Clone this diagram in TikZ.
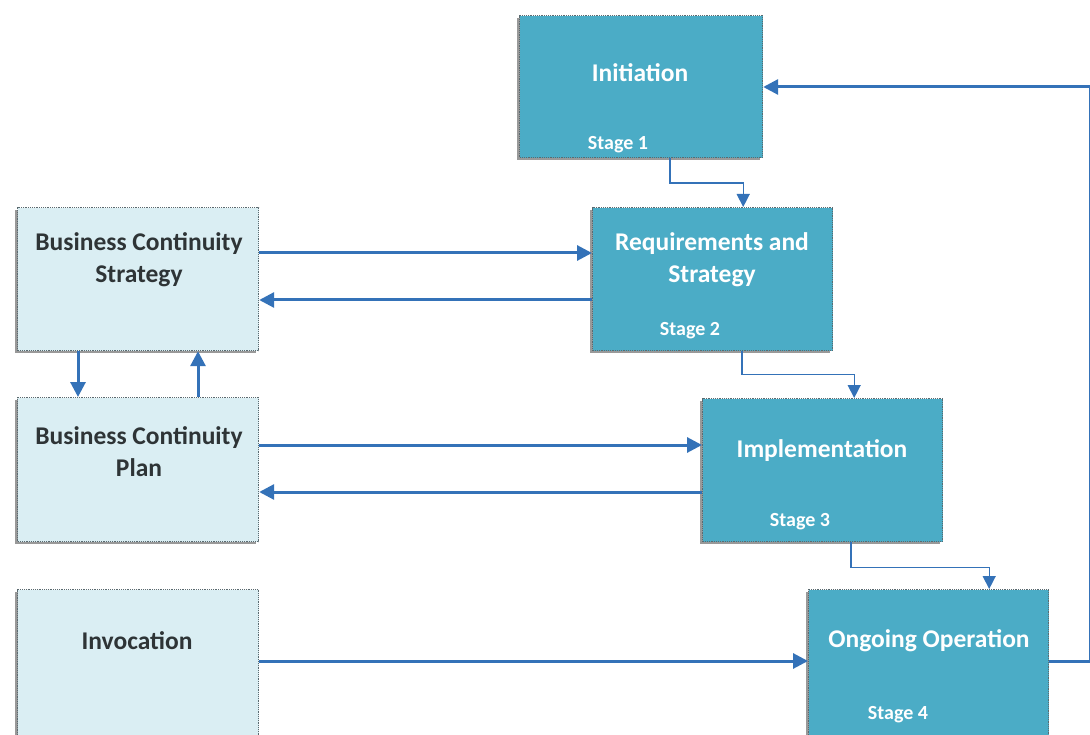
\documentclass[tikz,border=0pt]{standalone}
\usepackage{fontspec}
\setmainfont{Carlito}
\usetikzlibrary{arrows.meta,shadows}
\definecolor{stagefill}{HTML}{4BACC6}
\definecolor{sidefill}{HTML}{DAEEF3}
\definecolor{edgegray}{HTML}{5A6A70}
\definecolor{flow}{HTML}{3472B8}
\definecolor{sidetext}{HTML}{2E3436}
\tikzset{
  box/.style={draw=edgegray, densely dotted, line width=1.2pt, minimum width=240pt,
    minimum height=143pt, anchor=north west, inner sep=0pt,
    drop shadow={shadow xshift=-3pt, shadow yshift=-2pt, opacity=.4, fill=black}},
  stagebox/.style={box, fill=stagefill},
  sidebox/.style={box, fill=sidefill},
  stagetext/.style={text=white, font=\bfseries\fontsize{25.5}{32}\selectfont, align=center},
  sidetxt/.style={text=sidetext, font=\bfseries\fontsize{25.5}{32}\selectfont, align=center},
  stagenum/.style={text=white, font=\bfseries\fontsize{20}{22}\selectfont},
  bigflow/.style={draw=flow, line width=3pt, -{Triangle[length=15pt,width=15pt]}},
  thinflow/.style={draw=flow, line width=1.4pt, -{Triangle[length=13pt,width=13pt]}}
}
\begin{document}
\begin{tikzpicture}[x=1pt,y=-1pt]
\useasboundingbox (0,0) rectangle (1090,735);
\fill[white] (0,0) rectangle (1090,735);

% stage boxes
\node[stagebox, minimum width=243pt, minimum height=142pt] (init) at (519,15) {};
\node[stagebox] (req) at (592,207) {};
\node[stagebox] (impl) at (702,398) {};
\node[stagebox, minimum height=146pt] (oper) at (808,589) {};

% side boxes
\node[sidebox, minimum width=241pt] (bcs) at (17,207) {};
\node[sidebox, minimum width=241pt, minimum height=144pt] (bcp) at (17,397) {};
\node[sidebox, minimum width=241pt, minimum height=146pt] (inv) at (17,589) {};

% box texts
\node[stagetext] (t1) at (640,73) {Initiation};
\node[stagenum] (s1) at (618,145) {Stage 1};
\node[stagetext] (t2) at (712,260) {Requirements and\\Strategy};
\node[stagenum] (s2) at (690,331) {Stage 2};
\node[stagetext] (t3) at (822,451) {Implementation};
\node[stagenum] (s3) at (800,522) {Stage 3};
\node[stagetext] (t4) at (929,641) {Ongoing Operation};
\node[stagenum] (s4) at (898,715) {Stage 4};
\node[sidetxt] (tb1) at (139,260) {Business Continuity\\Strategy};
\node[sidetxt] (tb2) at (139,452) {Business Continuity\\Plan};
\node[sidetxt] (tb3) at (137,641) {Invocation};

% stage to stage connectors
\draw[thinflow] (init.south west) ++(151,0) |- ++(0,25) -| ([xshift=-90pt]req.north east);
\draw[thinflow] (req.south west) ++(150,0) |- ++(0,23) -| ([xshift=-89pt]impl.north east);
\draw[thinflow] (impl.south west) ++(149,0) |- ++(0,25) -| ([xshift=-60pt]oper.north east);

% strategy and plan exchanges
\draw[bigflow] ([yshift=-46pt]bcs.north east) -- ([yshift=-46pt]req.north west);
\draw[bigflow] ([yshift=-93pt]req.north west) -- ([yshift=-93pt]bcs.north east);
\draw[bigflow] ([yshift=-48pt]bcp.north east) -- ([yshift=-47pt]impl.north west);
\draw[bigflow] ([yshift=-94pt]impl.north west) -- ([yshift=-95pt]bcp.north east);
\draw[bigflow] ([xshift=61pt]bcs.south west) -- ([xshift=61pt]bcp.north west);
\draw[bigflow] ([xshift=181pt]bcp.north west) -- ([xshift=181pt]bcs.south west);
\draw[bigflow] ([yshift=-72pt]inv.north east) -- ([yshift=-72pt]oper.north west);

% feedback loop to initiation, running along the right edge
\coordinate (loopb) at (1090,661);
\coordinate (loopt) at (1090,87);
\draw[draw=flow, line width=3pt] ([yshift=-72pt]oper.north east) -- (loopb);
\draw[draw=flow, line width=3pt] (loopb) -- (loopt);
\draw[bigflow] (loopt) -- (init.east |- loopt);
\end{tikzpicture}
\end{document}
